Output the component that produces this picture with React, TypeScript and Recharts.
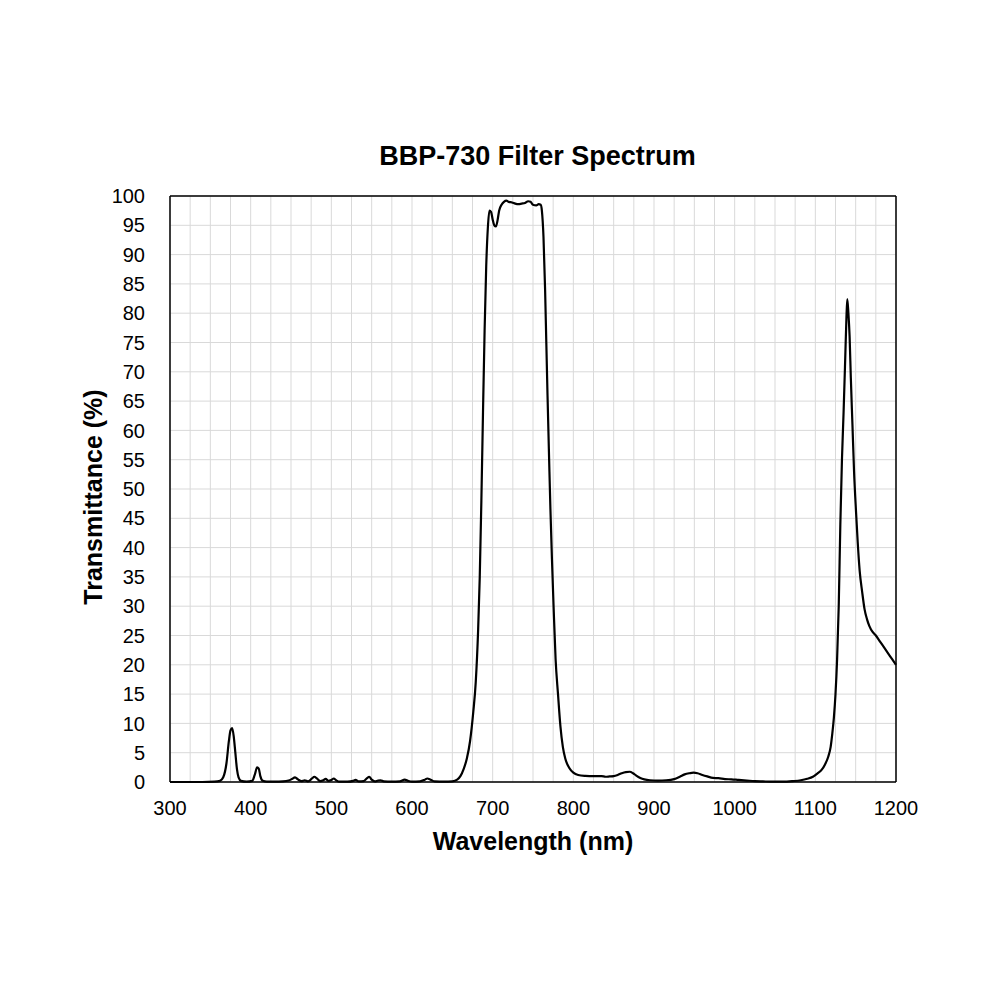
import React from 'react';
import { LineChart, Line, XAxis, YAxis, CartesianGrid, ReferenceLine } from 'recharts';

const wavelengths: number[] = [
  300, 320, 340, 355, 362, 366, 370, 373, 375, 377, 379, 381, 383, 385, 388, 395,
  402, 405, 408, 410, 412, 415, 420, 430, 440, 447, 451, 455, 459, 463, 467, 471,
  476, 479, 482, 486, 490, 493, 496, 500, 503, 506, 510, 520, 527, 530, 534, 540,
  544, 547, 550, 554, 558, 561, 565, 575, 585, 591, 595, 600, 610, 616, 619, 623,
  628, 640, 650, 656, 660, 664, 668, 672, 676, 679, 682, 684, 686, 688, 690, 692,
  694, 696, 698, 700, 702, 704, 706, 708, 711, 714, 717, 720, 724, 728, 732, 736,
  740, 744, 747, 750, 754, 757, 759.5, 761, 763, 765, 766.5, 768, 770, 771.5, 773.5, 775.5,
  778, 781, 784, 787, 790, 795, 800, 806, 815, 825, 835, 840, 845, 850, 855, 860,
  865, 870, 874, 878, 883, 888, 895, 905, 915, 925, 932, 938, 944, 949, 954, 960,
  966, 973, 980, 988, 996, 1005, 1015, 1025, 1035, 1048, 1060, 1072, 1082, 1090, 1097, 1103,
  1108, 1112, 1116, 1119, 1121, 1123, 1125, 1127, 1129, 1131, 1133, 1135, 1137, 1138.5, 1139.6, 1141,
  1142.5, 1144, 1146, 1148, 1150.5, 1152.5, 1155, 1158, 1161, 1164, 1167, 1171, 1175, 1180, 1185, 1190,
  1195, 1200,
];

const transmittance: number[] = [
  0, 0, 0, 0.05, 0.2, 0.8, 3.2, 7.0, 8.8, 9.2, 7.8, 5.0, 2.2, 0.8, 0.2, 0.05,
  0.2, 1.2, 2.5, 2.3, 1.0, 0.2, 0.05, 0.05, 0.1, 0.25, 0.5, 0.8, 0.4, 0.15, 0.3, 0.1,
  0.6, 0.9, 0.6, 0.15, 0.3, 0.55, 0.2, 0.35, 0.6, 0.3, 0.05, 0.05, 0.2, 0.35, 0.1, 0.15,
  0.6, 0.9, 0.4, 0.1, 0.25, 0.3, 0.1, 0.05, 0.1, 0.4, 0.2, 0.05, 0.1, 0.4, 0.6, 0.4,
  0.1, 0.05, 0.1, 0.4, 1.0, 2.2, 4.0, 7.0, 12.0, 17.0, 26, 35, 48, 63, 77, 88,
  94.5, 97.5, 97.3, 96, 95, 94.8, 95.8, 97.5, 98.5, 99, 99.2, 99, 98.9, 98.7, 98.6, 98.7,
  98.8, 99.1, 99, 98.5, 98.4, 98.6, 98.5, 97.5, 93, 84, 75, 66, 55, 47, 38, 30,
  21, 15, 9.5, 6, 4, 2.4, 1.6, 1.2, 1.05, 1.0, 1.0, 0.9, 0.95, 1.0, 1.2, 1.5,
  1.7, 1.75, 1.5, 1.1, 0.7, 0.45, 0.3, 0.25, 0.3, 0.5, 0.9, 1.3, 1.5, 1.6, 1.5, 1.2,
  0.95, 0.7, 0.65, 0.5, 0.45, 0.35, 0.25, 0.15, 0.1, 0.05, 0.05, 0.15, 0.3, 0.55, 0.9, 1.5,
  2.1, 3.0, 4.3, 6.0, 8.2, 11, 15, 21, 30, 44, 55, 63, 72, 79, 82.4, 80,
  76, 69, 61, 53, 46, 41, 36, 32.5, 29.5, 27.8, 26.6, 25.6, 25, 24, 23, 22,
  21, 20,
];

const xTicks: number[] = [
  300, 325, 350, 375, 400, 425, 450, 475, 500, 525, 550, 575, 600, 625, 650, 675,
  700, 725, 750, 775, 800, 825, 850, 875, 900, 925, 950, 975, 1000, 1025, 1050, 1075,
  1100, 1125, 1150, 1175, 1200,
];
const yTicks: number[] = [0, 5, 10, 15, 20, 25, 30, 35, 40, 45, 50, 55, 60, 65, 70, 75, 80, 85, 90, 95, 100];

const data = wavelengths.map((w, i) => ({ w, t: transmittance[i] }));

const FONT = '"Liberation Sans", Arial, sans-serif';

export default function App() {
  return (
    <div style={{ position: 'absolute', left: 0, top: 0, width: 1000, height: 1000, background: '#fff', fontFamily: FONT, color: '#000' }}>
      <div style={{ position: 'absolute', left: 0, width: 1075, top: 141, textAlign: 'center', fontSize: 27, fontWeight: 'bold', lineHeight: 'normal' }}>
        BBP-730 Filter Spectrum
      </div>
      <div
        style={{
          position: 'absolute',
          left: 93,
          top: 497,
          transform: 'translate(-50%, -50%) rotate(-90deg)',
          whiteSpace: 'nowrap',
          fontSize: 25,
          fontWeight: 'bold',
          lineHeight: 'normal',
        }}
      >
        Transmittance (%)
      </div>
      <LineChart width={1000} height={1000} data={data} margin={{ top: 196, right: 104, left: 50, bottom: 148 }}>
        <CartesianGrid stroke="#d9d9d9" strokeWidth={1} />
        <XAxis
          dataKey="w"
          type="number"
          domain={[300, 1200]}
          ticks={xTicks}
          interval={0}
          tickLine={false}
          tickSize={0}
          tickMargin={19}
          tickFormatter={(v: number) => (v % 100 === 0 ? String(v) : '')}
          axisLine={{ stroke: '#000', strokeWidth: 1.5 }}
          tick={{ fill: '#000', fontSize: 20, fontFamily: FONT }}
          height={70}
          label={{ value: 'Wavelength (nm)', position: 'insideBottom', offset: 2, fill: '#000', fontSize: 25, fontWeight: 'bold', fontFamily: FONT }}
        />
        <YAxis
          type="number"
          domain={[0, 100]}
          ticks={yTicks}
          interval={0}
          tickLine={false}
          tickSize={0}
          tickMargin={25}
          axisLine={{ stroke: '#000', strokeWidth: 1.5 }}
          tick={{ fill: '#000', fontSize: 20, fontFamily: FONT }}
          width={120}
        />
        <ReferenceLine y={100} stroke="#000" strokeWidth={1.5} ifOverflow="visible" />
        <ReferenceLine x={1200} stroke="#000" strokeWidth={1.5} ifOverflow="visible" />
        <Line type="monotone" dataKey="t" stroke="#000" strokeWidth={2.2} dot={false} isAnimationActive={false} />
      </LineChart>
    </div>
  );
}
